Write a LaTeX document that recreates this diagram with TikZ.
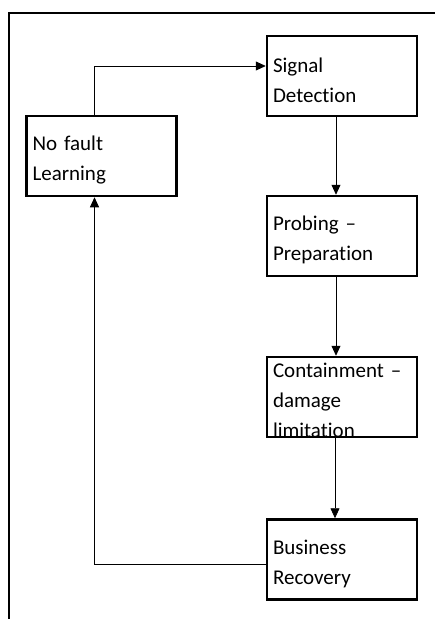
\documentclass[tikz,border=0pt]{standalone}
\usepackage{fontspec}
\setmainfont{Carlito}[Ligatures=NoCommon]
\usepackage{tikz}
\usetikzlibrary{arrows.meta}

\tikzset{stage/.style={draw, line width=2.5pt,
                       minimum width=150pt, minimum height=80pt,
                       inner xsep=6pt, inner ysep=0pt,
                       text width=138pt, align=left,
                       font=\fontsize{21}{30}\selectfont},
         drop/.style={execute at begin node={\rule{0pt}{#1}}},
         link/.style={->, line width=0.8pt}}

\begin{document}
\begin{tikzpicture}[>={Triangle[length=10pt,width=9pt]}, x=1pt, y=1pt]
            \useasboundingbox (0,0) rectangle (435,-619);
            \draw[line width=2pt] (9,-640) |- (450,-13);
            \node[stage, drop=23pt] (signal)  at (342,-76)    {Signal\\Detection};
            \node[stage, drop=23pt] (nofault) at (101.5,-156) {No fault\\Learning};
            \node[stage, drop=23pt] (probing) at (342,-236)   {Probing –\\Preparation};
            \node[stage, drop=20pt] (contain) at (342,-397)   {Containment –\\damage\\\smash{limitation}};
            \node[stage, drop=23pt] (recover) at (342,-559.5) {Business\\Recovery};
            \draw[link] ([xshift=-7pt]nofault.north) |- ([yshift=10pt]signal.west);
            \draw[link] ([xshift=-6pt]signal.south) -- ([xshift=-6pt]probing.north);
            \draw[link] ([xshift=-6pt]probing.south) -- ([xshift=-6pt]contain.north);
            \draw[link] ([xshift=-7pt]contain.south) -- ([xshift=-7pt]recover.north);
            \draw[link] ([yshift=-5pt]recover.west) -| ([xshift=-7pt]nofault.south);
        \end{tikzpicture}
\end{document}
